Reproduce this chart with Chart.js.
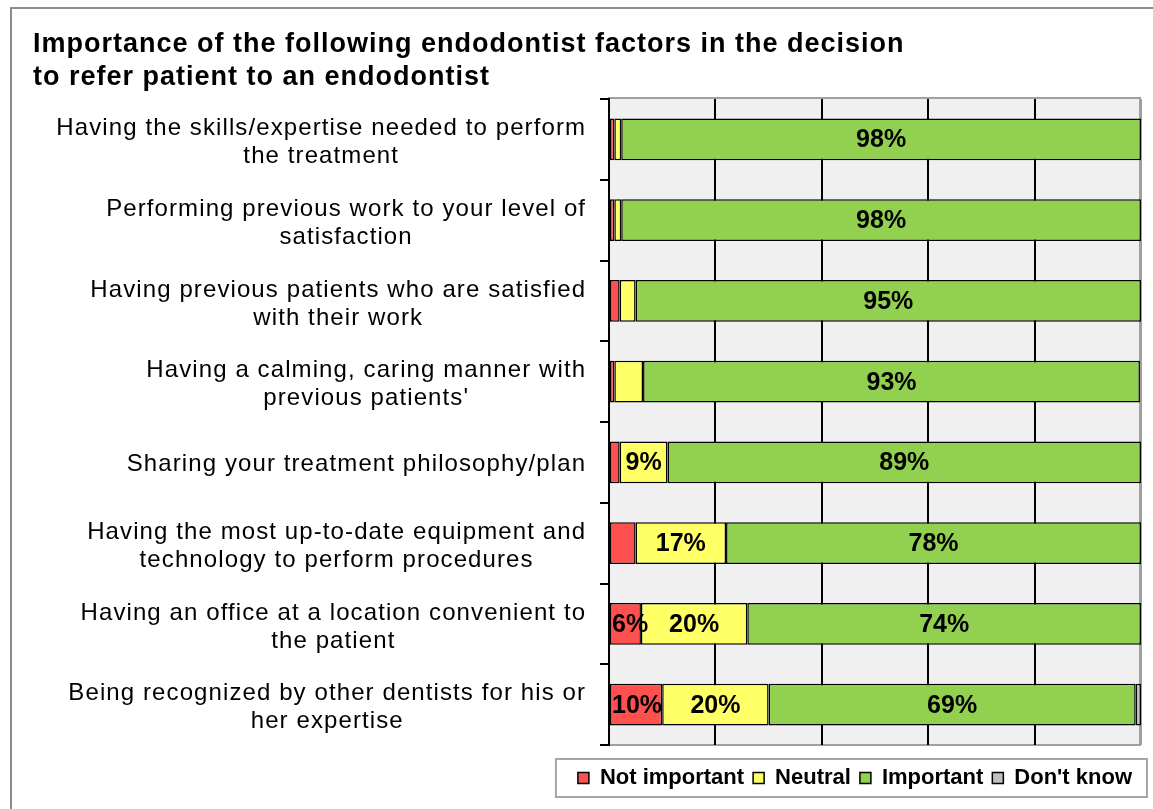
<!DOCTYPE html>
<html>
<head>
<meta charset="utf-8">
<script src="https://cdn.jsdelivr.net/npm/chart.js@4/dist/chart.umd.min.js"></script>
<style>
  html, body { margin: 0; padding: 0; background: #fff; }
  #wrap { width: 1153px; height: 809px; position: relative; }
</style>
</head>
<body>
<div id="wrap"><canvas id="chart" width="1153" height="809"></canvas></div>
<script>
// ---- data ----
const titleLines = [
  "Importance of the following endodontist factors in the decision",
  "to refer patient to an endodontist"
];
const categories = [
  ["Having the skills/expertise needed to perform", "the treatment"],
  ["Performing previous work to your level of", "satisfaction"],
  ["Having previous patients who are satisfied", "with their work"],
  ["Having a calming, caring manner with", "previous patients'"],
  ["Sharing your treatment philosophy/plan"],
  ["Having the most up-to-date equipment and", "technology to perform procedures"],
  ["Having an office at a location convenient to", "the patient"],
  ["Being recognized by other dentists for his or", "her expertise"]
];
const seriesNames = ["Not important", "Neutral", "Important", "Don't know"];
const notImportant = [1, 1, 2, 1, 2, 5, 6, 10];
const neutral      = [1.3, 1.3, 3, 5.4, 9, 17, 20, 20];
const important    = [97.7, 97.7, 95, 93.4, 89, 78, 74, 69];
const dontKnow     = [0, 0, 0, 0, 0, 0, 0, 1];
const xTicks = [0, 20, 40, 60, 80, 100];
const seriesColors = ["#ff5050", "#ffff66", "#92d050", "#c0c0c0"];
const LABEL_MIN = 6;

const FONT = '"Liberation Sans", Arial, sans-serif';

const decor = {
  id: 'decor',
  beforeDraw(chart) {
    const ctx = chart.ctx;
    const a = chart.chartArea;
    ctx.save();
    ctx.letterSpacing = '0px';
    ctx.fillStyle = '#ffffff';
    ctx.fillRect(0, 0, chart.width, chart.height);
    // outer frame
    ctx.strokeStyle = '#8c8c8c';
    ctx.lineWidth = 2;
    ctx.strokeRect(11, 8, 1400, 1000);
    // plot background
    ctx.fillStyle = '#f0f0f0';
    ctx.fillRect(a.left, a.top, a.right - a.left, a.bottom - a.top);
    ctx.strokeStyle = '#a0a0a0';
    ctx.lineWidth = 2;
    ctx.strokeRect(a.left, a.top - 1, a.right - a.left - 1, a.bottom - a.top + 1);
    // legend frame
    const lg = chart.legend;
    if (lg && lg.legendHitBoxes && lg.legendHitBoxes.length) {
      const hb = lg.legendHitBoxes;
      const x0 = hb[0].left - 22;
      const x1 = 1147;
      const y0 = lg.top + 1, y1 = lg.bottom - 2;
      ctx.fillStyle = '#ffffff';
      ctx.fillRect(x0, y0, x1 - x0, y1 - y0);
      ctx.strokeStyle = '#a6a6a6';
      ctx.lineWidth = 2;
      ctx.strokeRect(x0, y0, x1 - x0, y1 - y0);
    }
    // title
    ctx.fillStyle = '#000';
    ctx.font = 'bold 27px ' + FONT;
    ctx.letterSpacing = '1px';
    ctx.textAlign = 'left';
    ctx.textBaseline = 'middle';
    titleLines.forEach((t, i) => ctx.fillText(t, 33, 45 + i * 33));
    ctx.restore();
    chart.ctx.letterSpacing = '0px';
  },
  afterDatasetsDraw(chart) {
    const ctx = chart.ctx;
    ctx.save();
    ctx.font = 'bold 25px ' + FONT;
    ctx.letterSpacing = '0px';
    ctx.fillStyle = '#000';
    ctx.textAlign = 'center';
    ctx.textBaseline = 'middle';
    chart.data.datasets.forEach((ds, di) => {
      const meta = chart.getDatasetMeta(di);
      meta.data.forEach((bar, i) => {
        const v = ds.data[i];
        if (v < LABEL_MIN) return;
        const p = bar.getProps(['x', 'y', 'base'], true);
        const txt = Math.round(v) + '%';
        const w = ctx.measureText(txt).width;
        const lo = Math.min(p.x, p.base);
        const cx = Math.max((p.x + p.base) / 2, lo + w / 2 + 2);
        ctx.fillText(txt, cx, p.y + 1);
      });
    });
    ctx.restore();
  },
  afterDraw(chart) {
    const ctx = chart.ctx;
    const ys = chart.scales.y;
    ctx.save();
    ctx.font = '24px ' + FONT;
    ctx.letterSpacing = '1.1px';
    ctx.fillStyle = '#000';
    ctx.textAlign = 'left';
    ctx.textBaseline = 'middle';
    const right = 585 + 1.1;
    categories.forEach((lines, i) => {
      const cy = ys.getPixelForValue(i);
      const widths = lines.map(l => ctx.measureText(l).width);
      const maxW = Math.max(...widths);
      const cx = right - maxW / 2;
      const offs = lines.length === 1 ? [2] : [-11, 17];
      lines.forEach((l, j) => ctx.fillText(l, cx - widths[j] / 2, cy + offs[j]));
    });
    ctx.restore();
  }
};

const seriesData = [notImportant, neutral, important, dontKnow];

new Chart(document.getElementById('chart'), {
  type: 'bar',
  data: {
    labels: categories,
    datasets: seriesNames.map((name, k) => ({
      label: name,
      data: seriesData[k],
      backgroundColor: seriesColors[k],
      borderColor: '#000',
      borderWidth: 1.5,
      borderSkipped: false,
      barPercentage: 0.52,
      categoryPercentage: 1
    }))
  },
  options: {
    indexAxis: 'y',
    responsive: false,
    animation: false,
    events: [],
    layout: { padding: { top: 99, left: 33, right: 12, bottom: 10 } },
    scales: {
      x: {
        type: 'linear',
        stacked: true,
        min: xTicks[0],
        max: xTicks[xTicks.length - 1],
        afterBuildTicks(s) { s.ticks = xTicks.map(v => ({ value: v })); },
        ticks: { display: false },
        grid: {
          drawTicks: false,
          lineWidth: 2,
          color: c => (c.tick && c.tick.value === 0) ? 'rgba(0,0,0,0)' :
                      (c.tick && c.tick.value === 100) ? '#a0a0a0' : '#000'
        },
        border: { display: false },
        afterFit(s) { s.height = 13; }
      },
      y: {
        stacked: true,
        ticks: { display: false },
        grid: { drawOnChartArea: false, drawTicks: true, tickLength: 9, color: '#000', lineWidth: 2, offset: true },
        border: { display: true, color: '#000', width: 2 },
        afterFit(s) { s.width = 576; }
      }
    },
    plugins: {
      title: { display: false },
      tooltip: { enabled: false },
      legend: {
        position: 'bottom',
        align: 'end',
        labels: {
          boxWidth: 11,
          boxHeight: 11,
          padding: 9,
          color: '#000',
          font: { family: FONT, size: 22, weight: 'bold' }
        }
      }
    }
  },
  plugins: [decor]
});
</script>
</body>
</html>
